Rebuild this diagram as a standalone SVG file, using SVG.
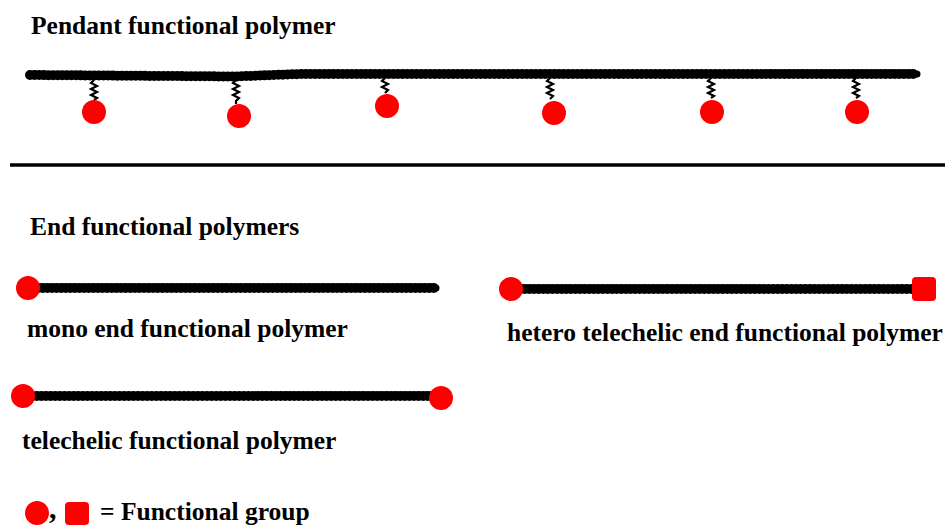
<svg xmlns="http://www.w3.org/2000/svg" width="945" height="527" viewBox="0 0 945 527">
<style>
.core{fill:none;stroke:#000;stroke-width:7;stroke-linecap:round;stroke-linejoin:round}
.bead{fill:none;stroke:#000;stroke-width:10;stroke-linecap:round;stroke-dasharray:0 4.6}
.spring{fill:none;stroke:#000;stroke-width:2.2}
.fg{fill:#ff0000}
.t{font-family:"Liberation Serif","Times New Roman",serif;font-weight:bold;font-size:25.5px;fill:#000}
</style>
<rect width="945" height="527" fill="#fff"/>
<g id="connectors">
  <line x1="10" y1="165" x2="945" y2="165" stroke="#000" stroke-width="3.5"/>
</g>
<g id="pendant-polymer">
  <path class="core" d="M30,75 L235,76.5 L300,74 L917,74"/>
  <path class="bead" d="M30,75 L235,76.5 L300,74 L917,74"/>
  <path class="spring" d="M94,80 l-3,3 l6,3 l-6,3 l6,3 l-6,3 l6,3 l-3,2"/>
  <path class="spring" d="M236,80 l-3,3 l6,3 l-6,3 l6,3 l-6,3 l6,3 l-3,3 l0,3"/>
  <path class="spring" d="M385,78 l-3,3 l6,3 l-6,3 l6,3 l-3,3"/>
  <path class="spring" d="M550,78 l-3,3 l6,3 l-6,3 l6,3 l-6,3 l6,3 l-3,3"/>
  <path class="spring" d="M711,78 l-3,3 l6,3 l-6,3 l6,3 l-6,3 l6,3 l-3,2"/>
  <path class="spring" d="M856,78 l-3,3 l6,3 l-6,3 l6,3 l-6,3 l6,3 l-3,2"/>
  <circle class="fg" cx="94" cy="112" r="12"/>
  <circle class="fg" cx="239" cy="116" r="12"/>
  <circle class="fg" cx="387" cy="106" r="12"/>
  <circle class="fg" cx="554" cy="113" r="12"/>
  <circle class="fg" cx="712" cy="112" r="12"/>
  <circle class="fg" cx="857" cy="112" r="12"/>
</g>
<g id="title-pendant"><text class="t" x="31" y="34">Pendant functional polymer</text></g>
<g id="title-end"><text class="t" x="30" y="235">End functional polymers</text></g>
<g id="mono">
  <path class="core" d="M29,288 L436,288"/>
  <path class="bead" d="M29,288 L436,288"/>
  <circle class="fg" cx="28" cy="288" r="12"/>
  <text class="t" x="27" y="337">mono end functional polymer</text>
</g>
<g id="hetero">
  <path class="core" d="M511,289 L915,289"/>
  <path class="bead" d="M511,289 L915,289"/>
  <circle class="fg" cx="511" cy="289" r="12"/>
  <rect class="fg" x="912" y="277" width="24" height="24" rx="4"/>
  <text class="t" x="507" y="341">hetero telechelic end functional polymer</text>
</g>
<g id="telechelic">
  <path class="core" d="M23,396 L441,396"/>
  <path class="bead" d="M23,396 L441,396"/>
  <circle class="fg" cx="23" cy="396" r="12"/>
  <circle class="fg" cx="441" cy="398" r="12"/>
  <text class="t" x="22" y="449">telechelic functional polymer</text>
</g>
<g id="legend">
  <circle class="fg" cx="37" cy="513" r="12"/>
  <text class="t" x="49" y="518" style="font-size:30px">,</text>
  <rect class="fg" x="65" y="502" width="24" height="23" rx="4"/>
  <text class="t" x="100" y="520">= Functional group</text>
</g>
</svg>
